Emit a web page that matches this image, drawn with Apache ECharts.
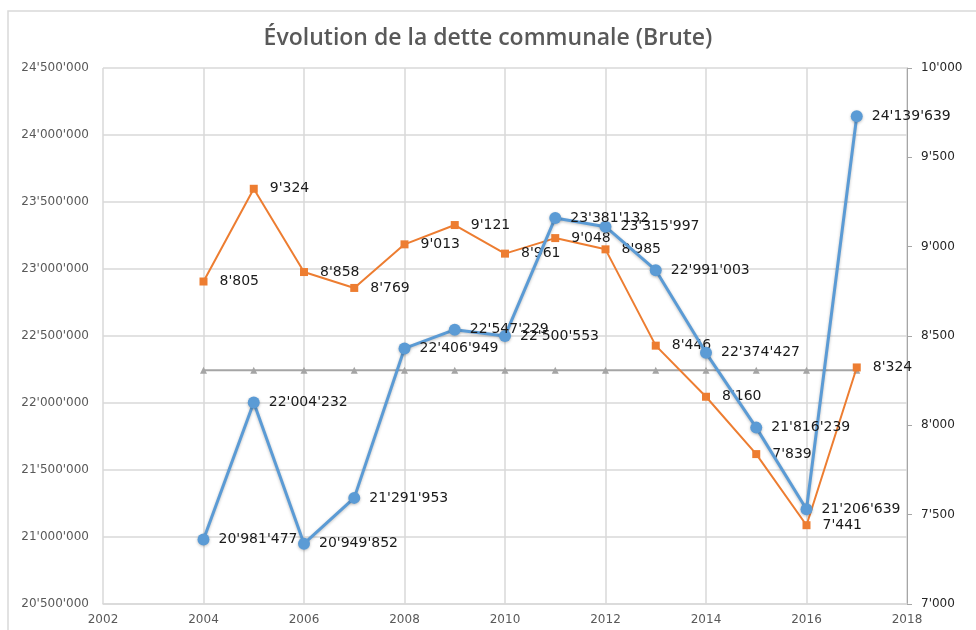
<!DOCTYPE html>
<html>
<head>
<meta charset="utf-8">
<script src="https://cdn.jsdelivr.net/npm/echarts@6/dist/echarts.min.js"></script>
<style>
html,body{margin:0;padding:0;background:#fff;}
#chart{width:976px;height:630px;}
</style>
</head>
<body>
<div id="chart"></div>
<script>
// ---- data ----
var years = [2004, 2005, 2006, 2007, 2008, 2009, 2010, 2011, 2012, 2013, 2014, 2015, 2016, 2017];
var detteBrute = [20981477, 22004232, 20949852, 21291953, 22406949, 22547229, 22500553, 23381132, 23315997, 22991003, 22374427, 21816239, 21206639, 24139639];
var dettePerHab = [8805, 9324, 8858, 8769, 9013, 9121, 8961, 9048, 8985, 8446, 8160, 7839, 7441, 8324];
var moyenne = [22245000, 22245000, 22245000, 22245000, 22245000, 22245000, 22245000, 22245000, 22245000, 22245000, 22245000, 22245000, 22245000, 22245000];
var leftTicks = [20500000, 24500000, 500000];
var rightTicks = [7000, 10000, 500];
var xTicks = [2002, 2018, 2];

function fmt(v) {
  return String(Math.round(v)).replace(/\B(?=(\d{3})+(?!\d))/g, "'");
}
function pairs(xs, ys) { return xs.map(function (x, i) { return [x, ys[i]]; }); }

var chart = echarts.init(document.getElementById('chart'), null, {renderer: 'canvas'});
var font = 'DejaVu Sans';
function labelStyle(dist) {
  return {
    show: true, position: 'right', distance: dist,
    color: '#1a1a1a', fontSize: 14, fontFamily: font,
    formatter: function (p) { return fmt(p.value[1]); }
  };
}

chart.setOption({
  backgroundColor: '#fff',
  animation: false,
  title: {
    text: 'Évolution de la dette communale (Brute)',
    left: 'center', top: 22,
    textStyle: {fontFamily: 'Open Sans', fontWeight: 600, fontSize: 23, color: '#595959'}
  },
  graphic: [{
    type: 'rect', silent: true, z: -1,
    shape: {x: 8, y: 11, width: 1000, height: 700},
    style: {fill: 'none', stroke: '#d9d9d9', lineWidth: 1.5}
  }],
  grid: {left: 103, right: 69, top: 68, bottom: 26},
  xAxis: {
    type: 'value', min: xTicks[0], max: xTicks[1], interval: xTicks[2],
    axisLine: {show: true, lineStyle: {color: '#d9d9d9', width: 1.5}},
    axisTick: {show: false},
    axisLabel: {color: '#595959', fontSize: 12, fontFamily: font, margin: 10,
      formatter: function (v) { return String(v); }},
    splitLine: {show: true, lineStyle: {color: '#d9d9d9', width: 1.5}}
  },
  yAxis: [{
    type: 'value', min: leftTicks[0], max: leftTicks[1], interval: leftTicks[2],
    axisLine: {show: false},
    axisTick: {show: false},
    axisLabel: {color: '#595959', fontSize: 12, fontFamily: font, margin: 14, formatter: fmt},
    splitLine: {show: true, lineStyle: {color: '#d9d9d9', width: 1.5}}
  }, {
    type: 'value', min: rightTicks[0], max: rightTicks[1], interval: rightTicks[2],
    position: 'right',
    axisLine: {show: true, lineStyle: {color: '#a6a6a6', width: 1}},
    axisTick: {show: true, length: 5, lineStyle: {color: '#a6a6a6'}},
    axisLabel: {color: '#262626', fontSize: 12, fontFamily: font, margin: 14, formatter: fmt},
    splitLine: {show: false}
  }],
  series: [{
    name: 'Moyenne', type: 'line', yAxisIndex: 0, z: 1,
    data: pairs(years, moyenne),
    symbol: 'triangle', symbolSize: 7,
    lineStyle: {color: '#a5a5a5', width: 2},
    itemStyle: {color: '#a5a5a5'}
  }, {
    name: 'Dette par habitant', type: 'line', yAxisIndex: 1, z: 2,
    data: pairs(years, dettePerHab),
    symbol: 'rect', symbolSize: 8,
    lineStyle: {color: '#ed7d31', width: 2},
    itemStyle: {color: '#ed7d31'},
    label: labelStyle(12)
  }, {
    name: 'Dette brute', type: 'line', yAxisIndex: 0, z: 3,
    data: pairs(years, detteBrute),
    symbol: 'circle', symbolSize: 12,
    lineStyle: {color: '#5b9bd5', width: 3, shadowBlur: 3, shadowColor: 'rgba(0,0,0,0.25)', shadowOffsetY: 1},
    itemStyle: {color: '#5b9bd5', shadowBlur: 3, shadowColor: 'rgba(0,0,0,0.25)', shadowOffsetY: 1},
    label: labelStyle(9)
  }]
});
</script>
</body>
</html>
